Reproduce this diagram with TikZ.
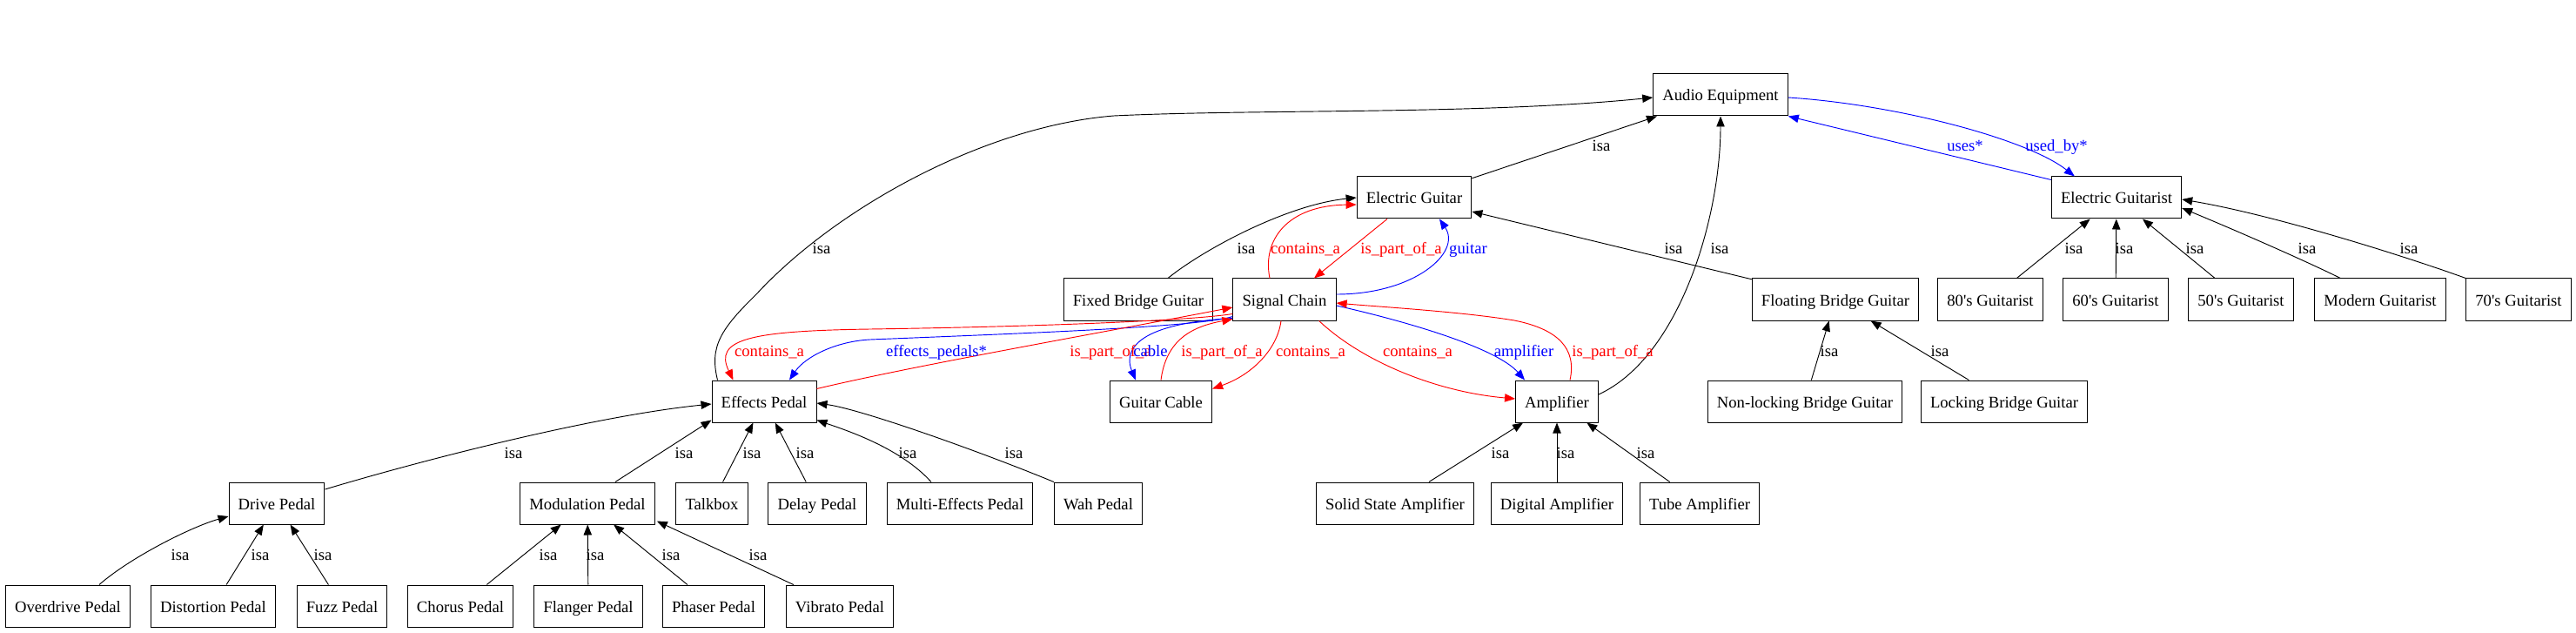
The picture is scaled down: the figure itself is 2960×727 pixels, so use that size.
\documentclass[tikz,border=0pt]{standalone}
\usepackage{fontspec}
\setmainfont{Liberation Serif}[Ligatures=TeXOff]
\usetikzlibrary{calc,arrows.meta}
\begin{document}
\begin{tikzpicture}[x=0.75pt,y=-0.75pt,
  box/.style={draw,line width=0.75pt,rectangle,minimum height=36pt,inner xsep=8pt,text height=13.5pt,text depth=3pt,font=\fontsize{14pt}{16pt}\selectfont},
  lbl/.style={anchor=base,inner sep=0pt,font=\fontsize{14pt}{16pt}\selectfont},
  isa/.style={line width=0.7pt,-{Triangle[length=9pt,width=7pt]}},
  redge/.style={red,line width=0.7pt,-{Triangle[length=9pt,width=7pt]}},
  bedge/.style={blue,line width=0.7pt,-{Triangle[length=9pt,width=7pt]}}]
\useasboundingbox (0,0) rectangle (2960,727);
% nodes
\node[box] (AE) at (1977,109) {Audio Equipment};
\node[box] (EG) at (1625,227) {Electric Guitar};
\node[box] (EGist) at (2432,227) {Electric Guitarist};
\node[box] (FBG) at (1308,344) {Fixed Bridge Guitar};
\node[box] (SC) at (1476,344) {Signal Chain};
\node[box] (FlBG) at (2109,344) {Floating Bridge Guitar};
\node[box] (G80) at (2287,344) {80's Guitarist};
\node[box] (G60) at (2431,344) {60's Guitarist};
\node[box] (G50) at (2575,344) {50's Guitarist};
\node[box] (GMod) at (2735,344) {Modern Guitarist};
\node[box] (G70) at (2894,344) {70's Guitarist};
\node[box] (EP) at (878,461) {Effects Pedal};
\node[box] (GC) at (1334,461) {Guitar Cable};
\node[box] (Amp) at (1789,461) {Amplifier};
\node[box] (NLBG) at (2074,461) {Non-locking Bridge Guitar};
\node[box] (LBG) at (2303,461) {Locking Bridge Guitar};
\node[box] (Drive) at (318,578) {Drive Pedal};
\node[box] (Mod) at (675,578) {Modulation Pedal};
\node[box] (Talk) at (818,578) {Talkbox};
\node[box] (Delay) at (939,578) {Delay Pedal};
\node[box] (Multi) at (1103,578) {Multi-Effects Pedal};
\node[box] (Wah) at (1262,578) {Wah Pedal};
\node[box] (SSA) at (1603,578) {Solid State Amplifier};
\node[box] (DA) at (1789,578) {Digital Amplifier};
\node[box] (TA) at (1953,578) {Tube Amplifier};
\node[box] (Over) at (78,696) {Overdrive Pedal};
\node[box] (Dist) at (245,696) {Distortion Pedal};
\node[box] (Fuzz) at (393,696) {Fuzz Pedal};
\node[box] (Chorus) at (529,696) {Chorus Pedal};
\node[box] (Flanger) at (676,696) {Flanger Pedal};
\node[box] (Phaser) at (820,696) {Phaser Pedal};
\node[box] (Vibrato) at (965,696) {Vibrato Pedal};
% isa edges
\draw[isa] ($(EP.north west)+(7,0)$) .. controls (815,398) and (828,378) .. (870,337) .. controls (960,240) and (1130,145) .. (1280,133) .. controls (1450,125) and (1700,132) .. ($(AE.west)+(0,3)$);
\draw[isa] (EG) -- (AE);
\draw[isa] ($(Amp.east)+(0,-8)$) .. controls (1930,410) and (1977,250) .. (AE.south);
\draw[isa] ($(FBG.north)+(34,0)$) .. controls (1385,285) and (1480,235) .. (EG.west);
\draw[isa] (FlBG) -- (EG);
\draw[isa] (G80) -- (EGist);
\draw[isa] (G60) -- (EGist);
\draw[isa] (G50) -- (EGist);
\draw[isa] ($(GMod.north west)+(30,0)$) .. controls (2650,300) and (2570,265) .. ($(EGist.east)+(0,12)$);
\draw[isa] (G70.north west) .. controls (2780,300) and (2620,248) .. ($(EGist.east)+(0,2)$);
\draw[isa] (NLBG) -- (FlBG);
\draw[isa] (LBG) -- (FlBG);
\draw[isa] (SSA) -- (Amp);
\draw[isa] (DA) -- (Amp);
\draw[isa] (TA) -- (Amp);
\draw[isa] ($(Drive.east)+(0,-16)$) .. controls (480,530) and (680,478) .. ($(EP.west)+(0,3)$);
\draw[isa] ($(Mod.north)+(32,0)$) -- ($(EP.south west)+(0,-3)$);
\draw[isa] (Talk) -- (EP);
\draw[isa] (Delay) -- (EP);
\draw[isa] ($(Multi.north)+(-33,0)$) .. controls (1035,515) and (975,495) .. ($(EP.south east)+(0,-3)$);
\draw[isa] (Wah.north west) .. controls (1130,520) and (990,470) .. ($(EP.east)+(0,2)$);
\draw[isa] ($(Over.north)+(36,0)$) .. controls (150,640) and (220,605) .. ($(Drive.west)+(0,15)$);
\draw[isa] (Dist) -- (Drive);
\draw[isa] (Fuzz) -- (Drive);
\draw[isa] (Chorus) -- (Mod);
\draw[isa] (Flanger) -- (Mod);
\draw[isa] (Phaser) -- (Mod);
\draw[isa] ($(Vibrato.north west)+(9,0)$) -- ($(Mod.south east)+(2,-4)$);
% coloured edges
\draw[bedge] ($(AE.east)+(0,3)$) .. controls (2180,120) and (2330,160) .. ($(EGist.north west)+(27,0)$);
\draw[bedge] ($(EGist.north west)+(0,4)$) -- (AE.south east);
\draw[redge] ($(SC.north)+(-17,0)$) .. controls (1450,275) and (1480,236) .. ($(EG.west)+(0,8)$);
\draw[redge] ($(EG.south)+(-31,0)$) -- ($(SC.north)+(34,0)$);
\draw[bedge] ($(SC.east)+(0,-6)$) .. controls (1625,338) and (1680,290) .. ($(EG.south)+(29,0)$);
\draw[redge] ($(SC.south west)+(0,-8)$) .. controls (1370,368) and (1200,375) .. (1000,378) .. controls (860,380) and (820,390) .. ($(EP.north west)+(25,0)$);
\draw[bedge] ($(SC.south west)+(0,-5)$) .. controls (1380,375) and (1200,382) .. (1000,390) .. controls (960,392) and (925,410) .. ($(EP.north)+(29,0)$);
\draw[redge] ($(EP.north east)+(0,10)$) .. controls (1050,420) and (1250,385) .. ($(SC.west)+(0,9)$);
\draw[bedge] ($(SC.south west)+(0,-3)$) .. controls (1300,372) and (1292,405) .. ($(GC.north west)+(30,0)$);
\draw[redge] (GC.north) .. controls (1340,390) and (1370,375) .. ($(SC.south west)+(0,-2)$);
\draw[redge] ($(SC.south)+(-4,0)$) .. controls (1468,400) and (1440,430) .. ($(GC.north east)+(0,10)$);
\draw[redge] ($(SC.south east)+(-20,0)$) .. controls (1565,415) and (1650,450) .. ($(Amp.west)+(0,-3)$);
\draw[bedge] ($(SC.east)+(0,7)$) .. controls (1620,370) and (1720,400) .. ($(Amp.north west)+(11,0)$);
\draw[redge] ($(Amp.north)+(15,0)$) .. controls (1812,400) and (1790,378) .. (1740,368) .. controls (1680,358) and (1580,352) .. ($(SC.east)+(0,4)$);
% labels row 1
\node[lbl] (l01) at (1840,174) {isa};
\node[lbl,blue] (l02) at (2258,174) {uses*};
\node[lbl,blue] (l03) at (2363,174) {used\_by*};
% row 2
\node[lbl] (l04) at (944,292) {isa};
\node[lbl] (l05) at (1432,292) {isa};
\node[lbl,red] (l06) at (1500,292) {contains\_a};
\node[lbl,red] (l07) at (1610,292) {is\_part\_of\_a};
\node[lbl,blue] (l08) at (1687,292) {guitar};
\node[lbl] (l09) at (1923,292) {isa};
\node[lbl] (l10) at (1976,292) {isa};
\node[lbl] (l11) at (2383,292) {isa};
\node[lbl] (l12) at (2441,292) {isa};
\node[lbl] (l13) at (2522,292) {isa};
\node[lbl] (l14) at (2651,292) {isa};
\node[lbl] (l15) at (2768,292) {isa};
% row 3
\node[lbl,red] (l16) at (884,409) {contains\_a};
\node[lbl,blue] (l17) at (1076,409) {effects\_pedals*};
\node[lbl,red] (l18) at (1276,409) {is\_part\_of\_a};
\node[lbl,blue] (l19) at (1322,409) {cable};
\node[lbl,red] (l20) at (1404,409) {is\_part\_of\_a};
\node[lbl,red] (l21) at (1506,409) {contains\_a};
\node[lbl,red] (l22) at (1629,409) {contains\_a};
\node[lbl,blue] (l23) at (1751,409) {amplifier};
\node[lbl,red] (l24) at (1853,409) {is\_part\_of\_a};
\node[lbl] (l25) at (2102,409) {isa};
\node[lbl] (l26) at (2229,409) {isa};
% row 4
\node[lbl] (l27) at (590,526) {isa};
\node[lbl] (l28) at (786,526) {isa};
\node[lbl] (l29) at (864,526) {isa};
\node[lbl] (l30) at (925,526) {isa};
\node[lbl] (l31) at (1043,526) {isa};
\node[lbl] (l32) at (1165,526) {isa};
\node[lbl] (l33) at (1724,526) {isa};
\node[lbl] (l34) at (1799,526) {isa};
\node[lbl] (l35) at (1891,526) {isa};
% row 5
\node[lbl] (l36) at (207,643) {isa};
\node[lbl] (l37) at (299,643) {isa};
\node[lbl] (l38) at (371,643) {isa};
\node[lbl] (l39) at (630,643) {isa};
\node[lbl] (l40) at (684,643) {isa};
\node[lbl] (l41) at (771,643) {isa};
\node[lbl] (l42) at (871,643) {isa};
\end{tikzpicture}
\end{document}
